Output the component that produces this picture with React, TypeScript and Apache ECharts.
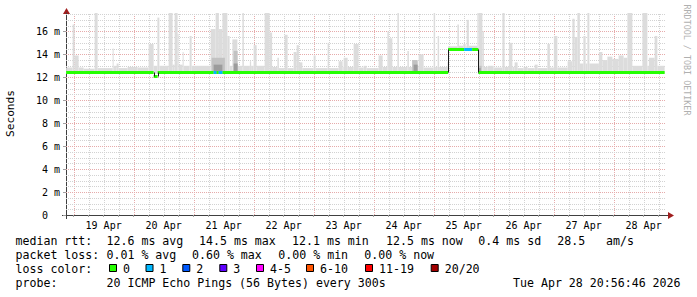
import React, { useEffect, useRef } from "react";
import * as echarts from "echarts";

// ---------- data ----------
// time is expressed in hours relative to 19 Apr 00:00
const dayLabels = ["19 Apr", "20 Apr", "21 Apr", "22 Apr", "23 Apr", "24 Apr", "25 Apr", "26 Apr", "27 Apr", "28 Apr"];
const yTickValues = [0, 2, 4, 6, 8, 10, 12, 14, 16];
const timeStart = -3.05;
const timeEnd = 236.95; // Tue Apr 28 20:56:46
const yMax = 17.6;
const smokeFloor = 12.3;

// smoke columns: [startHour, endHour, top] or [startHour, endHour, bottom, top]  (ms)
const smokeLight: number[][] = [
  [-3.0, -0.4, 12.85], [-0.4, 0.4, 16.6], [0.4, 2.0, 13.9], [2.0, 4.0, 12.85], [4.0, 8.4, 12.75],
  [8.4, 9.6, 17.6], [9.6, 15.6, 12.8], [15.6, 16.0, 14.5], [16.0, 17.2, 13.0], [17.2, 18.0, 13.2],
  [18.0, 21.6, 12.8], [21.6, 25.6, 12.9], [25.6, 30.0, 12.85], [30.0, 32.0, 14.9], [32.0, 33.5, 13.0],
  [33.5, 34.3, 17.2], [34.3, 38.0, 13.0], [38.0, 39.6, 17.6], [39.6, 40.4, 13.1], [40.4, 41.6, 17.6],
  [41.6, 42.0, 15.8], [42.0, 43.6, 13.1], [43.6, 44.0, 14.2], [44.0, 46.4, 13.0], [46.4, 47.2, 15.6],
  [47.2, 54.8, 13.0], [54.8, 56.8, 16.2], [56.8, 58.1, 17.6], [58.1, 59.5, 16.2], [59.5, 61.5, 17.6],
  [61.5, 62.4, 15.6], [62.4, 63.5, 13.0], [63.5, 65.5, 15.3], [65.5, 67.5, 13.0], [67.5, 68.1, 17.6],
  [68.1, 70.5, 13.0], [70.5, 71.0, 13.4], [71.0, 72.0, 13.0], [72.0, 73.2, 14.8], [73.2, 76.4, 13.0],
  [76.4, 78.4, 17.6], [78.4, 79.4, 15.9], [79.4, 81.5, 12.9], [81.5, 82.1, 13.7], [82.1, 84.4, 12.8],
  [84.4, 85.6, 15.7], [85.6, 88.0, 12.8], [88.0, 89.2, 14.2], [89.2, 90.1, 14.8], [90.1, 91.5, 13.3],
  [91.5, 96.0, 12.8], [96.0, 96.8, 13.9], [96.8, 101.6, 12.8], [101.6, 102.2, 15.0], [102.2, 106.0, 12.8],
  [106.0, 107.6, 13.4], [107.6, 108.0, 12.9], [108.0, 109.6, 13.7], [109.6, 112.0, 12.9], [112.0, 114.0, 14.9],
  [114.0, 116.0, 12.85], [116.0, 117.2, 13.0], [117.2, 122.0, 12.8], [122.0, 123.6, 13.9], [123.6, 125.5, 12.9],
  [125.5, 126.1, 16.0], [126.1, 127.5, 15.4], [127.5, 129.5, 12.9], [129.5, 130.1, 17.6], [130.1, 133.5, 12.9],
  [133.5, 134.1, 14.3], [134.1, 135.6, 12.9], [135.6, 137.6, 13.4], [137.6, 138.0, 13.0], [138.0, 140.0, 14.0],
  [140.0, 144.0, 12.85], [144.0, 144.6, 17.6], [144.6, 145.6, 12.9], [145.6, 146.2, 15.6], [146.2, 149.6, 12.9],
  [149.6, 149.8, 13.3],
  [149.8, 153.5, 14.4, 14.7], [153.5, 154.1, 14.4, 16.6], [154.1, 155.9, 14.4, 14.75], [155.9, 156.8, 14.4, 14.9],
  [156.8, 157.2, 14.4, 14.7], [157.2, 158.1, 14.4, 17.0], [158.1, 161.5, 14.4, 14.75], [161.5, 161.9, 14.4, 17.6],
  [161.9, 163.5, 17.6], [163.5, 164.1, 16.0], [164.1, 165.6, 12.9], [165.6, 168.0, 13.0], [168.0, 171.5, 12.85],
  [171.5, 172.4, 17.6], [172.4, 174.1, 12.9], [174.1, 175.5, 15.0], [175.5, 176.4, 12.9], [176.4, 177.6, 13.3],
  [177.6, 180.0, 12.8], [180.0, 181.6, 12.9], [181.6, 184.4, 12.8], [184.4, 185.6, 13.1], [185.6, 189.5, 12.8],
  [189.5, 190.5, 14.9], [190.5, 192.1, 12.85], [192.1, 193.5, 15.6], [193.5, 197.6, 12.85], [197.6, 199.5, 13.4],
  [199.5, 200.4, 17.1], [200.4, 201.5, 15.5], [201.5, 202.5, 17.6], [202.5, 203.9, 13.2], [203.9, 204.8, 15.6],
  [204.8, 205.5, 13.2], [205.5, 206.3, 17.6], [206.3, 210.1, 13.2], [210.1, 211.5, 14.2], [211.5, 213.5, 13.5],
  [213.5, 215.5, 13.8], [215.5, 218.0, 13.6], [218.0, 220.0, 13.9], [220.0, 221.5, 13.7], [221.5, 223.5, 17.6],
  [223.5, 227.5, 13.0], [227.5, 229.5, 17.6], [229.5, 230.1, 13.0], [230.1, 232.4, 13.7], [232.4, 233.5, 15.6],
  [233.5, 236.4, 13.0],
];
const smokeMid: number[][] = [
  [55.2, 60.5, 13.7], [64.0, 65.6, 14.3], [135.4, 137.6, 13.5], [161.9, 163.2, 13.0],
];
const smokeDark: number[][] = [
  [56.0, 59.5, 13.1], [64.0, 65.6, 13.2], [136.0, 137.6, 13.1], [162.0, 162.8, 12.8],
];

// median rtt segments: [startHour, endHour, ms, lossLevelIndex]
const medianSegments: number[][] = [
  [-3.0, 32.0, 12.48, 0], [32.0, 33.6, 12.1, 0], [33.6, 56.0, 12.48, 0], [56.0, 57.2, 12.48, 1],
  [57.2, 58.0, 12.48, 0], [58.0, 59.6, 12.48, 1], [59.6, 149.8, 12.48, 0], [149.8, 156.2, 14.5, 0],
  [156.2, 159.4, 14.5, 1], [159.4, 161.9, 14.5, 0], [161.9, 236.4, 12.48, 0],
];

const lossColors = ["#26ff00", "#00b8ff", "#0059ff", "#5e00ff", "#ff00ff", "#ff5500", "#ff0000", "#a10000"];
const lossLabels = ["0", "1", "2", "3", "4-5", "6-10", "11-19", "20/20"];
const rttStats = ["12.6 ms avg", "14.5 ms max", "12.1 ms min", "12.5 ms now", "0.4 ms sd", "28.5", "am/s"];
const lossStats = ["0.01 % avg", "0.60 % max", "0.00 % min", "0.00 % now"];
const probeText = "20 ICMP Echo Pings (56 Bytes) every 300s";
const stampText = "Tue Apr 28 20:56:46 2026";

// ---------- layout ----------
const MONO = "DejaVu Sans Mono";
const rttX = [106.5, 199, 292, 386, 478.3, 557.3, 606];
const lossX = [106.5, 192, 278.3, 364.3];
const boxX = [109, 145.5, 182.3, 219.3, 256, 306, 365, 430.7];
const lineY = [240.7, 254.7, 268.7, 282.6];
const GRID_MINOR = "#d2d2d2";
const GRID_MAJOR = "#e6abab";

const noonHours = dayLabels.map((_, i) => i * 24 + 12);
const vGrid: number[][] = [];
for (let h = 0; h <= timeEnd; h += 6) vGrid.push([h, h % 24 === 0 ? 1 : 0]);
const hGrid: number[][] = [];
for (let v = 0.5; v < yMax; v += 0.5) hGrid.push([timeStart, v, v % 2 === 0 ? 1 : 0]);

const normSmoke = (arr: number[][]) => arr.map((d) => (d.length === 4 ? d : [d[0], d[1], smokeFloor, d[2]]));

function smokeSeries(data: number[][], color: string, z: number) {
  return {
    type: "custom",
    z,
    clip: true,
    silent: true,
    encode: { x: [0, 1], y: [2, 3] },
    data: normSmoke(data),
    renderItem: (_p: any, api: any) => {
      const a = api.coord([api.value(0), api.value(3)]);
      const b = api.coord([api.value(1), api.value(2)]);
      return {
        type: "rect",
        shape: { x: a[0], y: a[1], width: b[0] - a[0], height: b[1] - a[1] },
        style: { fill: color },
      };
    },
  };
}

function text(t: string, x: number, y: number, extra: any = {}) {
  return {
    type: "text",
    x,
    y,
    silent: true,
    ...extra,
    style: {
      text: t,
      fontFamily: MONO,
      fontSize: 11.6,
      fill: "#000",
      align: "left",
      verticalAlign: "middle",
      textAlign: "left",
      textVerticalAlign: "middle",
      ...(extra.style || {}),
    },
  };
}

export default function App() {
  const ref = useRef<HTMLDivElement>(null);
  useEffect(() => {
    if (!ref.current) return;
    const chart = echarts.init(ref.current, undefined, { renderer: "svg" });

    const graphic: any[] = [];
    graphic.push(text("Seconds", 10.8, 113.5, { rotation: Math.PI / 2, style: { align: "center", textAlign: "center", fontSize: 11.2 } }));
    graphic.push(text("RRDTOOL / TOBI OETIKER", 687, 60, { rotation: -Math.PI / 2, style: { align: "center", textAlign: "center", fontSize: 8.4, fill: "#b0b0b0" } }));
    graphic.push({ type: "line", silent: true, shape: { x1: 62, y1: 215.5, x2: 669, y2: 215.5 }, style: { stroke: "#404040", lineWidth: 1 } });
    graphic.push({ type: "line", silent: true, shape: { x1: 66.5, y1: 219, x2: 66.5, y2: 11 }, style: { stroke: "#404040", lineWidth: 1 } });
    graphic.push({ type: "polygon", silent: true, shape: { points: [[668, 212], [674, 215.5], [668, 219]] }, style: { fill: "#a01e1e" } });
    graphic.push({ type: "polygon", silent: true, shape: { points: [[63, 14], [66.5, 8], [70, 14]] }, style: { fill: "#a01e1e" } });
    graphic.push(text("median rtt:", 15.5, lineY[0]));
    rttStats.forEach((s, i) => graphic.push(text(s, rttX[i], lineY[0])));
    graphic.push(text("packet loss:", 15.5, lineY[1]));
    lossStats.forEach((s, i) => graphic.push(text(s, lossX[i], lineY[1])));
    graphic.push(text("loss color:", 15.5, lineY[2]));
    lossLabels.forEach((s, i) => {
      graphic.push({ type: "rect", silent: true, shape: { x: boxX[i] + 0.5, y: 264.5, width: 7, height: 7 }, style: { fill: lossColors[i], stroke: "#000", lineWidth: 1 } });
      graphic.push(text(s, boxX[i] + 14, lineY[2]));
    });
    graphic.push(text("probe:", 15.5, lineY[3]));
    graphic.push(text(probeText, 106.5, lineY[3]));
    graphic.push(text(stampText, 513, lineY[3]));

    const option: any = {
      animation: false,
      backgroundColor: "#ffffff",
      grid: { left: 66, right: 31, top: 13, bottom: 82, containLabel: false, outerBoundsMode: "none" },
      xAxis: {
        type: "value",
        min: timeStart,
        max: timeEnd,
        axisLine: { show: true, onZero: false, lineStyle: { color: "#404040", width: 1 } },
        axisTick: { show: true, customValues: vGrid.map((d) => d[0]), length: 2, lineStyle: { color: "#a0a0a0" } },
        axisLabel: {
          customValues: noonHours,
          formatter: (v: number) => dayLabels[Math.round((v - 12) / 24)] ?? "",
          fontFamily: MONO,
          fontSize: 10,
          color: "#000",
          margin: 5,
        },
        splitLine: { show: false },
      },
      yAxis: {
        type: "value",
        min: 0,
        max: yMax,
        axisLine: { show: true, onZero: false, lineStyle: { color: "#404040", width: 1 } },
        axisTick: { show: true, customValues: yTickValues, length: 3, lineStyle: { color: "#a0a0a0" } },
        axisLabel: {
          customValues: yTickValues,
          formatter: (v: number) => (v === 0 ? "0\u00a0\u00a0" : `${v} m`),
          fontFamily: MONO,
          fontSize: 10,
          color: "#000",
          margin: 6,
        },
        splitLine: { show: false },
      },
      series: [
        {
          type: "custom",
          z: 1,
          silent: true,
          data: vGrid,
          renderItem: (_p: any, api: any) => {
            const a = api.coord([api.value(0), 0]);
            const b = api.coord([api.value(0), yMax]);
            const x = Math.round(a[0]) + 0.5;
            return {
              type: "line",
              shape: { x1: x, y1: a[1], x2: x, y2: b[1] },
              style: { stroke: api.value(1) ? GRID_MAJOR : GRID_MINOR, lineWidth: 1, lineDash: [1, 1] },
            };
          },
        },
        {
          type: "custom",
          z: 1,
          silent: true,
          data: hGrid,
          encode: { x: 0, y: 1 },
          renderItem: (_p: any, api: any) => {
            const a = api.coord([timeStart, api.value(1)]);
            const b = api.coord([timeEnd, api.value(1)]);
            const y = Math.round(a[1]) + 0.5;
            return {
              type: "line",
              shape: { x1: a[0], y1: y, x2: b[0], y2: y },
              style: { stroke: api.value(2) ? GRID_MAJOR : GRID_MINOR, lineWidth: 1, lineDash: [1, 1] },
            };
          },
        },
        smokeSeries(smokeLight, "#dcdcdc", 2),
        smokeSeries(smokeMid, "#c2c2c2", 3),
        smokeSeries(smokeDark, "#9c9c9c", 4),
        {
          type: "custom",
          z: 5,
          silent: true,
          clip: true,
          encode: { x: [0, 1], y: 2 },
          data: medianSegments,
          renderItem: (_p: any, api: any) => {
            const a = api.coord([api.value(0), api.value(2)]);
            const b = api.coord([api.value(1), api.value(2)]);
            const y = Math.round(a[1]) + 0.5;
            return {
              type: "line",
              shape: { x1: a[0], y1: y, x2: b[0], y2: y },
              style: { stroke: lossColors[api.value(3)], lineWidth: 3 },
            };
          },
        },
        {
          type: "custom",
          z: 6,
          silent: true,
          clip: true,
          encode: { x: [0, 1], y: 2 },
          data: medianSegments,
          renderItem: (p: any, api: any) => {
            const i = p.dataIndex;
            if (i === 0) return { type: "group", children: [] };
            const prev = medianSegments[i - 1][2];
            const cur = api.value(2);
            if (prev === cur) return { type: "group", children: [] };
            const a = api.coord([api.value(0), prev]);
            const b = api.coord([api.value(0), cur]);
            const x = Math.round(a[0]) + 0.5;
            return {
              type: "line",
              shape: { x1: x, y1: Math.round(a[1]) + 0.5, x2: x, y2: Math.round(b[1]) + 0.5 },
              style: { stroke: "#1a1a1a", lineWidth: 1 },
            };
          },
        },
      ],
      graphic,
    };
    chart.setOption(option);
    return () => chart.dispose();
  }, []);

  return <div ref={ref} style={{ position: "fixed", left: 0, top: 0, width: 697, height: 297, background: "#fff" }} />;
}
